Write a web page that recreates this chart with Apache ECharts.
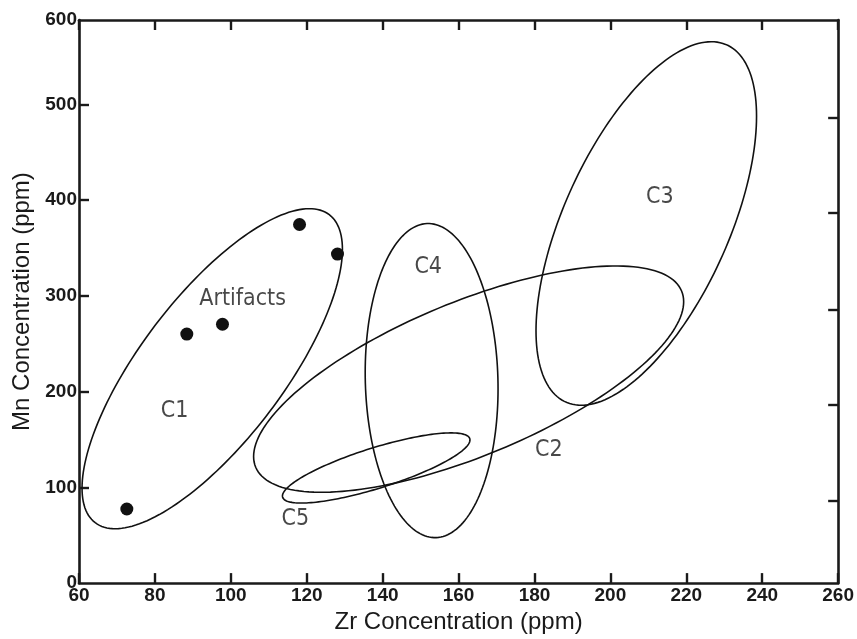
<!DOCTYPE html>
<html>
<head>
<meta charset="utf-8">
<script src="https://cdn.jsdelivr.net/npm/echarts@6/dist/echarts.min.js"></script>
<style>html,body{margin:0;padding:0;background:#fff}#c{width:857px;height:639px}</style>
</head>
<body>
<div id="c"></div>
<script>
// Axis ticks
var xTicks = [60, 80, 100, 120, 140, 160, 180, 200, 220, 240, 260];
var yTicks = [0, 100, 200, 300, 400, 500];
var yFrameTop = 588.2;          // value at the top of the frame (labelled "600" in the original)
var yFrameTopLabel = '600';
var yRightTicks = [85.7, 185.8, 285.9, 387.0, 486.1];   // right-side tick marks as drawn

// Artifact points (Zr, Mn)
var artifactZr = [72.6, 88.4, 97.8, 118.1, 128.1];
var artifactMn = [77.4, 260.1, 270.4, 374.6, 343.7];

// Group ellipses: Zr extent, Mn extent, Zr at the topmost point
var groupNames   = ['C1', 'C2', 'C3', 'C4', 'C5'];
var groupZrMin   = [60.8, 106.0, 180.4, 135.4, 113.6];
var groupZrMax   = [129.4, 219.3, 238.5, 170.4, 163.0];
var groupMnMin   = [56.8, 94.9, 185.8, 47.5, 83.6];
var groupMnMax   = [391.1, 331.3, 565.5, 375.6, 156.9];
var groupZrAtTop = [120.7, 201.4, 226.6, 152.0, 158.0];

// Text labels
var labelText = ['Artifacts', 'C1', 'C2', 'C3', 'C4', 'C5'];
var labelZr = [103.1, 85.2, 183.8, 213.0, 152.0, 117.0];
var labelMn = [297.2, 179.6, 139.3, 403.5, 330.2, 67.1];

var INK = '#111';
var AX = '#1a1a1a';
var chart = echarts.init(document.getElementById('c'), null, {renderer: 'canvas'});

var labelFont = {color: AX, fontFamily: 'Liberation Sans', fontWeight: 'bold', fontSize: 19};

var xBottom = {
  type: 'value', position: 'bottom', min: xTicks[0], max: xTicks[xTicks.length - 1], interval: 20,
  axisLine: {show: true, onZero: false, lineStyle: {color: AX, width: 2.6}},
  axisTick: {show: true, inside: true, length: 10, lineStyle: {color: AX, width: 2.4}},
  splitLine: {show: false},
  axisLabel: Object.assign({show: true, margin: 3, showMinLabel: true, showMaxLabel: true}, labelFont),
  name: 'Zr Concentration (ppm)', nameLocation: 'middle', nameGap: 21,
  nameTextStyle: {color: AX, fontFamily: 'Liberation Sans', fontSize: 24, verticalAlign: 'top'}
};
var xTop = {
  type: 'value', position: 'top', min: xTicks[0], max: xTicks[xTicks.length - 1], interval: 20,
  axisLine: {show: true, onZero: false, lineStyle: {color: AX, width: 2.6}},
  axisTick: {show: true, inside: true, length: 10, lineStyle: {color: AX, width: 2.4}},
  splitLine: {show: false}, axisLabel: {show: false}
};
var yLeft = {
  type: 'value', position: 'left', min: 0, max: yFrameTop,
  axisLine: {show: true, onZero: false, lineStyle: {color: AX, width: 2.6}},
  axisTick: {show: true, inside: true, length: 10, lineStyle: {color: AX, width: 2.4},
    customValues: yTicks.slice(1)},
  splitLine: {show: false},
  axisLabel: Object.assign({show: true, margin: 2, customValues: yTicks.concat([yFrameTop]),
    formatter: function (v) { return v === yFrameTop ? yFrameTopLabel : String(v); }}, labelFont),
  name: 'Mn Concentration (ppm)', nameLocation: 'middle', nameGap: 44,
  nameTextStyle: {color: AX, fontFamily: 'Liberation Sans', fontSize: 24}
};
var yRight = {
  type: 'value', position: 'right', min: 0, max: yFrameTop,
  axisLine: {show: true, onZero: false, lineStyle: {color: AX, width: 2.6}},
  axisTick: {show: true, inside: true, length: 10, lineStyle: {color: AX, width: 2.4},
    customValues: yRightTicks},
  splitLine: {show: false}, axisLabel: {show: false}
};

var ellipseData = groupNames.map(function (n, i) {
  return {name: n, value: [groupZrMin[i], groupZrMax[i], groupMnMin[i], groupMnMax[i], groupZrAtTop[i]]};
});

var series = [{
  type: 'custom', xAxisIndex: 0, yAxisIndex: 0, silent: true,
  encode: {x: [0, 1, 4], y: [2, 3]},
  data: ellipseData,
  renderItem: function (params, api) {
    var x0 = api.value(0), x1 = api.value(1), y0 = api.value(2), y1 = api.value(3), xt = api.value(4);
    var cx = (x0 + x1) / 2, cy = (y0 + y1) / 2, ax = (x1 - x0) / 2, ay = (y1 - y0) / 2;
    var phi = Math.acos(Math.max(-1, Math.min(1, (xt - cx) / ax)));
    var pts = [];
    for (var k = 0; k < 180; k++) {
      var t = k / 180 * Math.PI * 2;
      pts.push(api.coord([cx + ax * Math.cos(t), cy + ay * Math.cos(t - phi)]));
    }
    return {
      type: 'polygon',
      shape: {points: pts},
      style: {fill: 'none', stroke: INK, lineWidth: 1.6}
    };
  }
}, {
  type: 'scatter', xAxisIndex: 0, yAxisIndex: 0, silent: true,
  symbol: 'circle', symbolSize: 13,
  itemStyle: {color: INK, opacity: 1},
  data: artifactZr.map(function (x, i) { return [x, artifactMn[i]]; })
}, {
  type: 'scatter', xAxisIndex: 0, yAxisIndex: 0, silent: true,
  symbolSize: 0,
  label: {show: true, position: 'inside', color: AX, fontFamily: 'DejaVu Sans Condensed, DejaVu Sans', fontSize: 23,
    formatter: function (p) { return p.name; }},
  data: labelText.map(function (t, i) { return {name: t, value: [labelZr[i], labelMn[i]]}; })
}];

chart.setOption({
  animation: false,
  backgroundColor: '#fff',
  grid: {left: 79, right: 17, top: 20, bottom: 49, containLabel: false},
  xAxis: [xBottom, xTop],
  yAxis: [yLeft, yRight],
  series: series
});
</script>
</body>
</html>
